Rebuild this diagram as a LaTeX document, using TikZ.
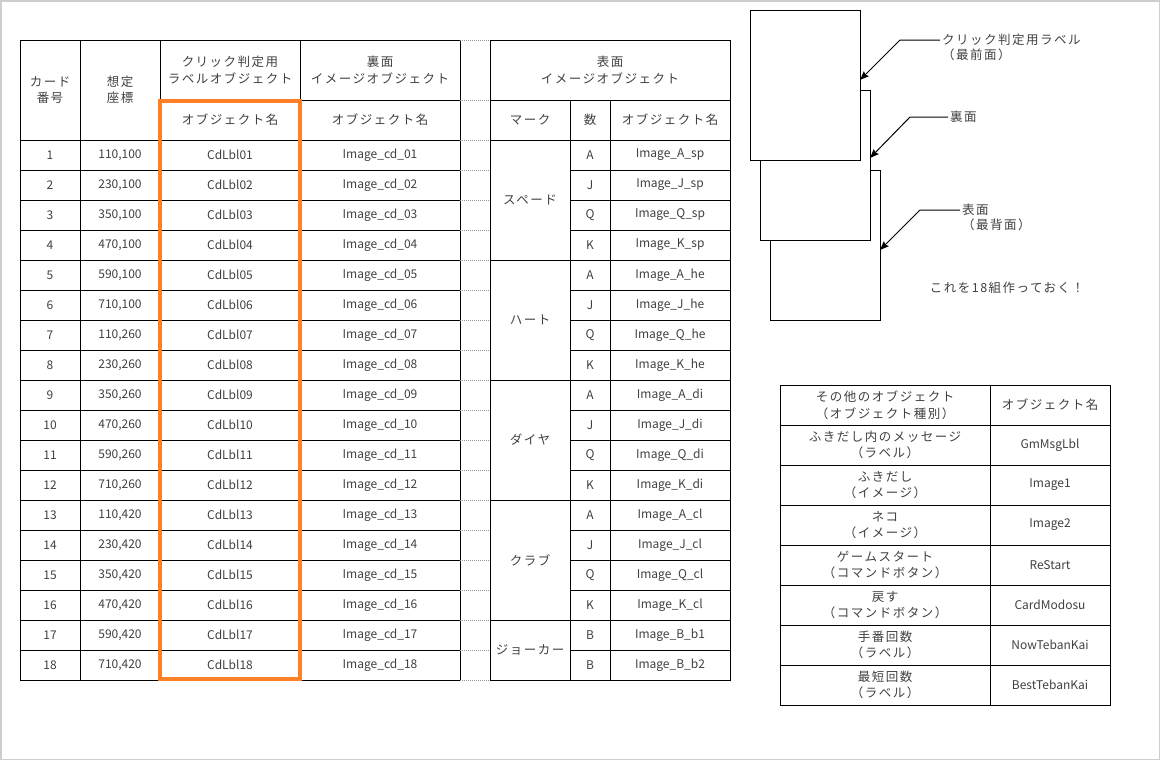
\documentclass[tikz,border=0pt]{standalone}
\usepackage{fontspec}
\setmainfont{Noto Sans CJK JP}
\newfontfamily\jpf[LetterSpace=12]{Noto Sans CJK JP}
\newfontfamily\latf{Noto Sans CJK JP}
\usetikzlibrary{arrows.meta}
\definecolor{txt}{RGB}{64,64,64}
\definecolor{orng}{RGB}{255,128,38}
\definecolor{framegray}{RGB}{206,206,206}
\definecolor{dotgray}{RGB}{150,150,150}
\begin{document}
\begin{tikzpicture}[x=1pt,y=-1pt,
  jp/.style={font=\jpf\fontsize{12.5}{16.5}\selectfont, text=txt, align=center, inner sep=1pt},
  lt/.style={font=\latf\fontsize{12}{15}\selectfont, text=txt, inner sep=1pt},
  grid/.style={line width=1pt, black},
  dotline/.style={dotgray, line width=0.8pt, dash pattern=on 1pt off 1pt},
  card/.style={draw=black, fill=white, line width=1pt},
  callout/.style={line width=1pt, -{Stealth[length=9pt,width=7pt,inset=1.5pt]}}]
\useasboundingbox (0,0) rectangle (1161,761);
\draw[framegray, line width=1.5pt] (0.75,0.75) rectangle (1159.6,759.6);

% ---------- left table grid ----------
\draw[grid] (20,40) rectangle (460,680);
\foreach \x in {80,160,300} \draw[grid] (\x,40) -- (\x,680);
\draw[grid] (160,100) -- (460,100);
\foreach \y in {140,170,...,650} \draw[grid] (20,\y) -- (460,\y);

% ---------- dotted links ----------
\foreach \y in {40,100,140,170,...,680} \draw[dotline] (460,\y) -- (490,\y);

% ---------- right table grid ----------
\draw[grid] (490,40) rectangle (730,680);
\draw[grid] (490,100) -- (730,100);
\draw[grid] (490,140) -- (730,140);
\foreach \x in {570,610} \draw[grid] (\x,100) -- (\x,680);
\foreach \y in {260,380,500,620} \draw[grid] (490,\y) -- (730,\y);
\foreach \y in {170,200,230,290,320,350,410,440,470,530,560,590,650} \draw[grid] (570,\y) -- (730,\y);

% ---------- headers ----------
\node[jp] (hno) at (50,90) {カード\\番号};
\node[jp] (hpos) at (120,90) {想定\\座標};
\node[jp] (hlbl) at (230,70) {クリック判定用\\ラベルオブジェクト};
\node[jp] (hura) at (380,70) {裏面\\イメージオブジェクト};
\node[jp] (hlbln) at (230,120) {オブジェクト名};
\node[jp] (huran) at (380,120) {オブジェクト名};
\node[jp] (homo) at (610,70) {表面\\イメージオブジェクト};
\node[jp] (hmark) at (530,120) {マーク};
\node[jp] (hnum) at (590,120) {数};
\node[jp] (homon) at (670,120) {オブジェクト名};

% ---------- left rows ----------
\foreach \n/\p/\t in {1/{110,100}/01,2/{230,100}/02,3/{350,100}/03,4/{470,100}/04,5/{590,100}/05,6/{710,100}/06,
  7/{110,260}/07,8/{230,260}/08,9/{350,260}/09,10/{470,260}/10,11/{590,260}/11,12/{710,260}/12,
  13/{110,420}/13,14/{230,420}/14,15/{350,420}/15,16/{470,420}/16,17/{590,420}/17,18/{710,420}/18} {
  \pgfmathsetmacro\yy{125+30*\n}
  \node[lt] (no\n) at (50,\yy) {\n};
  \node[lt] (pos\n) at (120,\yy) {\p};
  \node[lt] (lbl\n) at (230,\yy) {CdLbl\t};
  \node[lt] (img\n) at (380,\yy) {Image\_cd\_\t};
}

% ---------- right rows ----------
\foreach \n/\r/\m in {1/A/sp,2/J/sp,3/Q/sp,4/K/sp,5/A/he,6/J/he,7/Q/he,8/K/he,9/A/di,10/J/di,11/Q/di,12/K/di,
  13/A/cl,14/J/cl,15/Q/cl,16/K/cl,17/B/b1,18/B/b2} {
  \pgfmathsetmacro\yy{125+30*\n}
  \node[lt] (rk\n) at (590,\yy) {\r};
  \node[lt] (fn\n) at (670,\yy) {Image\_\r\_\m};
}
\node[jp] (msp) at (530,200) {スペード};
\node[jp] (mhe) at (530,320) {ハート};
\node[jp] (mdi) at (530,440) {ダイヤ};
\node[jp] (mcl) at (530,560) {クラブ};
\node[jp] (mjk) at (530,650) {ジョーカー};

% ---------- orange highlight ----------
\draw[orng, line width=4.5pt] (160,101) rectangle (300,679);

% ---------- cards ----------
\node[card, minimum width=110pt, minimum height=150pt, inner sep=0pt] (card3) at (825,245) {};
\node[card, minimum width=110pt, minimum height=150pt, inner sep=0pt] (card2) at (815,165) {};
\node[card, minimum width=110pt, minimum height=150pt, inner sep=0pt] (card1) at (805,85) {};
\coordinate (t1) at (860,80);
\coordinate (t2) at (870,158);
\coordinate (t3) at (880,250);

\node[jp, anchor=west, inner sep=2pt] (c1a) at (940,40) {クリック判定用ラベル};
\node[jp, anchor=west, inner sep=2pt] (c1b) at (940,55) {（最前面）};
\node[jp, anchor=west, inner sep=2pt] (c2a) at (948,117) {裏面};
\node[jp, anchor=west, inner sep=2pt] (c3a) at (960,210) {表面};
\node[jp, anchor=west, inner sep=2pt] (c3b) at (960,225) {（最背面）};
\node[jp] (note) at (1007,288) {これを18組作っておく！};

\draw[callout] (c1a.west) -- ++(-40,0) -- (t1);
\draw[callout] (c2a.west) -- ++(-38,0) -- (t2);
\draw[callout] (c3a.west) -- ++(-40,0) -- (t3);

% ---------- other objects table ----------
\draw[grid] (780,385) rectangle (1110,705);
\draw[grid] (990,385) -- (990,705);
\foreach \y in {425,465,...,665} \draw[grid] (780,\y) -- (1110,\y);
\node[jp] (oh1) at (885,405) {その他のオブジェクト\\（オブジェクト種別）};
\node[jp] (oh2) at (1050,405) {オブジェクト名};
\foreach \k/\a/\b in {1/{ふきだし内のメッセージ\\（ラベル）}/GmMsgLbl,
  2/{ふきだし\\（イメージ）}/Image1,
  3/{ネコ\\（イメージ）}/Image2,
  4/{ゲームスタート\\（コマンドボタン）}/ReStart,
  5/{戻す\\（コマンドボタン）}/CardModosu,
  6/{手番回数\\（ラベル）}/NowTebanKai,
  7/{最短回数\\（ラベル）}/BestTebanKai} {
  \pgfmathsetmacro\yy{405+40*\k}
  \node[jp] (oa\k) at (885,\yy) {\a};
  \node[lt] (ob\k) at (1050,\yy) {\b};
}
\end{tikzpicture}
\end{document}
